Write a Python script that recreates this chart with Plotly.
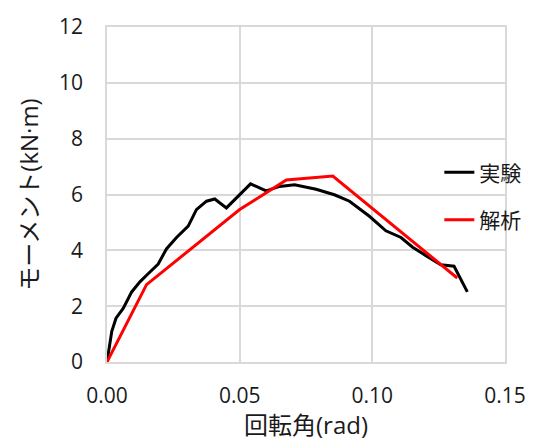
import plotly.graph_objects as go

exp_x = [0.0, 0.0018, 0.0034, 0.0061, 0.0093, 0.0124, 0.0155, 0.0193, 0.0224, 0.0262,
         0.0306, 0.0337, 0.0375, 0.0406, 0.0450, 0.0500, 0.0541, 0.0600, 0.0650, 0.0707,
         0.0788, 0.0857, 0.0914, 0.0989, 0.1051, 0.1108, 0.1152, 0.1202, 0.1258, 0.1308, 0.1358]
exp_y = [0.0, 1.1, 1.57, 1.92, 2.51, 2.87, 3.16, 3.51, 4.05, 4.46,
         4.87, 5.46, 5.76, 5.84, 5.52, 5.99, 6.38, 6.13, 6.29, 6.35,
         6.19, 5.99, 5.76, 5.22, 4.70, 4.46, 4.11, 3.81, 3.48, 3.43, 2.51]

ana_x = [0.0, 0.0149, 0.050, 0.0676, 0.0851, 0.132]
ana_y = [0.0, 2.77, 5.46, 6.52, 6.66, 3.01]

names = ["実験", "解析"]
x_ticks = [0.0, 0.05, 0.10, 0.15]
x_labels = ["0.00", "0.05", "0.10", "0.15"]
y_ticks = [0, 2, 4, 6, 8, 10, 12]

FONT = "Open Sans, Noto Sans CJK JP, sans-serif"
TXT = "#1a1a1a"

fig = go.Figure()
fig.add_trace(go.Scatter(x=exp_x, y=exp_y, mode="lines", name=names[0], legendgroup="a",
                         line=dict(color="black", width=3)))
fig.add_trace(go.Scatter(x=ana_x, y=ana_y, mode="lines", name=names[1], legendgroup="b",
                         line=dict(color="#ff0000", width=3)))

fig.update_layout(
    width=542, height=441,
    margin=dict(l=107, r=37, t=23, b=79),
    paper_bgcolor="white", plot_bgcolor="white",
    font=dict(family=FONT, size=21, color=TXT),
    legend=dict(x=0.835, y=0.495, xanchor="left", yanchor="middle",
                bgcolor="rgba(0,0,0,0)", tracegroupgap=17,
                font=dict(family=FONT, size=21, color=TXT)),
    xaxis=dict(range=[0, 0.15], tickvals=x_ticks, ticktext=x_labels,
               showgrid=True, gridcolor="#d9d9d9", gridwidth=1.5,
               showline=True, linecolor="#d9d9d9", linewidth=1.5, mirror=True,
               zeroline=False, ticks="outside", ticklen=14, tickcolor="rgba(0,0,0,0)",
               tickfont=dict(size=21),
               title=dict(text="回転角(rad)", font=dict(size=24), standoff=2)),
    yaxis=dict(range=[0, 12], tickvals=y_ticks,
               showgrid=True, gridcolor="#d9d9d9", gridwidth=1.5,
               showline=True, linecolor="#d9d9d9", linewidth=1.5, mirror=True,
               zeroline=False, ticks="outside", ticklen=18, tickcolor="rgba(0,0,0,0)",
               tickfont=dict(size=21),
               title=dict(text="モーメント(kN·m)", font=dict(size=24), standoff=14)),
)

fig.write_html("out.html")
